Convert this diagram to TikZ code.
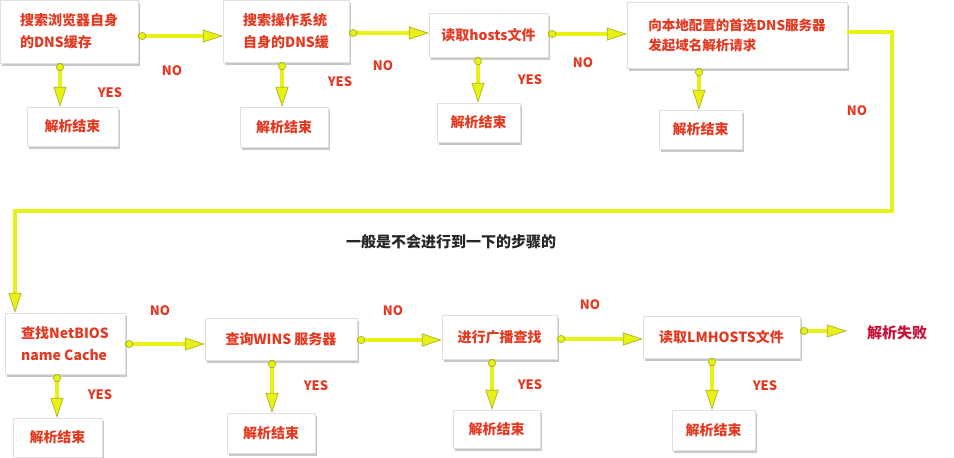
\documentclass[tikz,border=0pt]{standalone}
\usepackage{fontspec}
\setmainfont{Noto Sans CJK SC}
\usetikzlibrary{arrows.meta,shadows}
\definecolor{txtred}{RGB}{228,56,32}
\definecolor{failred}{RGB}{200,16,56}
\definecolor{arrowyel}{RGB}{232,240,20}
\definecolor{arrowedge}{RGB}{175,180,40}
\tikzset{
  box/.style={draw=black!12, fill=white, inner sep=0pt,
    drop shadow={shadow xshift=2pt, shadow yshift=-2.5pt, fill=black!40, opacity=0.55},
    text=txtred, font=\bfseries\fontsize{14}{22}\selectfont, align=left},
  flow/.style={line width=3.2pt, draw=arrowyel,
    {Circle[length=8pt,color=arrowedge,fill=arrowyel,line width=0.7pt]}-{Triangle[length=20pt,width=13pt,color=arrowedge,fill=arrowyel,line width=0.7pt]},
    preaction={draw=arrowedge, line width=4.6pt, arrows=-, shorten >=12pt}},
  loopflow/.style={line width=3.2pt, draw=arrowyel, line join=miter,
    -{Triangle[length=20pt,width=13pt,color=arrowedge,fill=arrowyel,line width=0.7pt]},
    preaction={draw=arrowedge, line width=4.6pt, arrows=-, shorten >=12pt}},
  lab/.style={text=txtred, font=\bfseries\fontsize{13}{13}\selectfont, inner sep=0pt},
}
\begin{document}
\begin{tikzpicture}[x=1pt,y=-1pt]
\fill[white] (0,0) rectangle (954,458);
\useasboundingbox (0,0) rectangle (954,458);

% top row main boxes
\node[box, minimum width=138pt, minimum height=63pt] (A) at (69,31.5) {搜索浏览器自身\\的DNS缓存};
\node[box, minimum width=126pt, minimum height=62pt] (B) at (286,31) {搜索操作系统\\自身的DNS缓};
\node[box, minimum width=119pt, minimum height=44pt] (C) at (488.5,35) {读取hosts文件};
\node[box, minimum width=220pt, minimum height=66pt, font=\bfseries\fontsize{13.5}{20}\selectfont] (D) at (737,35) {向本地配置的首选DNS服务器\\发起域名解析请求};

% top row sub boxes
\node[box, minimum width=91pt, minimum height=39pt] (S1) at (72.5,126.5) {解析结束};
\node[box, minimum width=88pt, minimum height=40pt] (S2) at (284,127) {解析结束};
\node[box, minimum width=83pt, minimum height=39pt] (S3) at (478.5,122.5) {解析结束};
\node[box, minimum width=83pt, minimum height=39pt] (S4) at (700.5,129.5) {解析结束};

% bottom row main boxes
\node[box, minimum width=120pt, minimum height=61pt] (E) at (65,343.5) {查找NetBIOS\\name Cache};
\node[box, minimum width=152pt, minimum height=42pt] (F) at (281,339) {查询WINS 服务器};
\node[box, minimum width=115pt, minimum height=44pt] (G) at (499.5,337) {进行广播查找};
\node[box, minimum width=157pt, minimum height=42pt] (H) at (721.5,337) {读取LMHOSTS文件};
\node[text=failred, font=\bfseries\fontsize{15}{15}\selectfont, inner sep=0pt] (fail) at (897,333) {解析失败};

% bottom row sub boxes
\node[box, minimum width=89pt, minimum height=39pt] (S5) at (57.5,437.5) {解析结束};
\node[box, minimum width=88pt, minimum height=40pt] (S6) at (271,433) {解析结束};
\node[box, minimum width=87pt, minimum height=38pt] (S7) at (496.5,429) {解析结束};
\node[box, minimum width=83pt, minimum height=40pt] (S8) at (713.5,430) {解析结束};

% note
\node[font=\bfseries\fontsize{15}{15}\selectfont, text=black!85, inner sep=0pt] (note) at (451,242) {一般是不会进行到一下的步骤的};

% horizontal arrows
\draw[flow] (A.east |- 0,36) -- (B.west |- 0,36);
\draw[flow] (B.east |- 0,33) -- (C.west |- 0,33);
\draw[flow] (C.east |- 0,34) -- (D.west |- 0,34);
\draw[loopflow] (D.east |- 0,32) -- (892,32) -- (892,211) -- (15,211) -- (E.north -| 15,0);
\draw[flow] (E.east |- 0,344) -- (F.west |- 0,344);
\draw[flow] (F.east |- 0,340) -- (G.west |- 0,340);
\draw[flow] (G.east |- 0,339) -- (H.west |- 0,339);
\draw[flow] (H.east |- 0,331) -- ([xshift=-20pt]fail.west |- 0,331);

% vertical arrows
\draw[flow] (A.south -| 60,0) -- (S1.north -| 60,0);
\draw[flow] (B.south -| 282,0) -- (S2.north -| 282,0);
\draw[flow] (C.south -| 478,0) -- (S3.north -| 478,0);
\draw[flow] (D.south -| 699,0) -- (S4.north -| 699,0);
\draw[flow] (E.south -| 57,0) -- (S5.north -| 57,0);
\draw[flow] (F.south -| 272,0) -- (S6.north -| 272,0);
\draw[flow] (G.south -| 492,0) -- (S7.north -| 492,0);
\draw[flow] (H.south -| 712,0) -- (S8.north -| 712,0);

% labels
\node[lab] (no1) at (172,71) {NO};
\node[lab] (no2) at (383,66) {NO};
\node[lab] (no3) at (583,63) {NO};
\node[lab] (no4) at (857,111) {NO};
\node[lab] (no5) at (160,311) {NO};
\node[lab] (no6) at (393,311) {NO};
\node[lab] (no7) at (590,305) {NO};
\node[lab] (yes1) at (110,93) {YES};
\node[lab] (yes2) at (340,82) {YES};
\node[lab] (yes3) at (530,80) {YES};
\node[lab] (yes5) at (100,395) {YES};
\node[lab] (yes6) at (316,386) {YES};
\node[lab] (yes7) at (530,385) {YES};
\node[lab] (yes8) at (765,386) {YES};
\end{tikzpicture}
\end{document}
